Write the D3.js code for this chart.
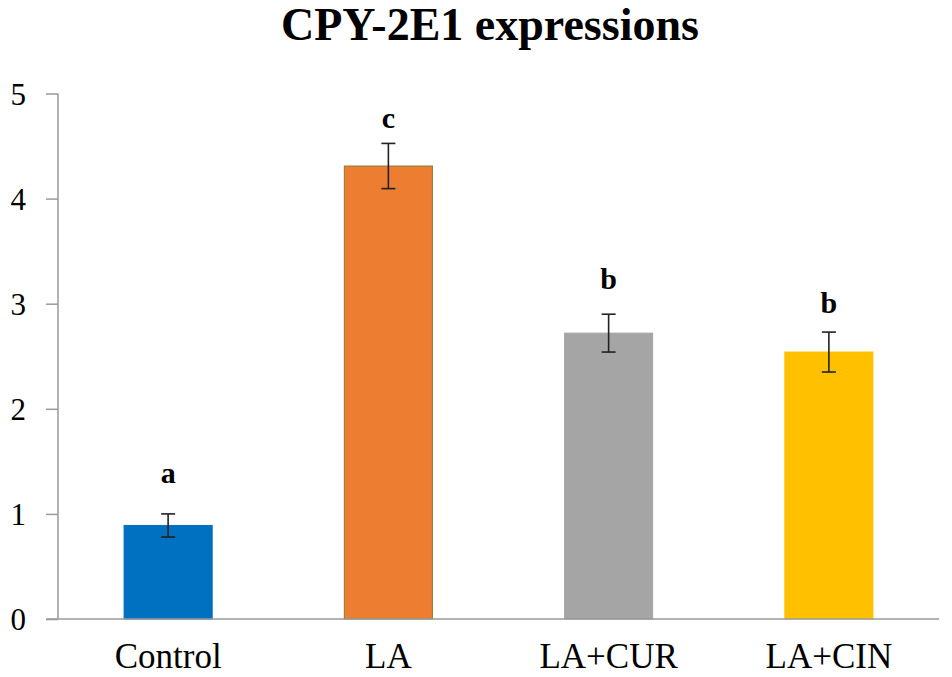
<!DOCTYPE html>
<html>
<head>
<meta charset="utf-8">
<script src="https://cdn.jsdelivr.net/npm/d3@7/dist/d3.min.js"></script>
<style>
  html, body { margin: 0; padding: 0; background: #fff; }
  svg { display: block; }
  svg text { font-family: "Liberation Serif", "Times New Roman", "DejaVu Serif", serif; }
</style>
</head>
<body>
<svg id="chart" width="952" height="677"></svg>
<script>
const categories = ["Control", "LA", "LA+CUR", "LA+CIN"];
const values = [0.89, 4.31, 2.72, 2.54];
const errors = [0.11, 0.215, 0.18, 0.19];
const letters = ["a", "c", "b", "b"];
const letterAt = [1.29, 4.67, 3.14, 2.91];
const barColors = ["#0070C0", "#ED7D31", "#A5A5A5", "#FFC000"];
const barStrokes = ["#0070C0", "#8C7B2E", "#A5A5A5", "#FFC000"];
const yTicks = [0, 1, 2, 3, 4, 5];
const title = "CPY-2E1 expressions";

const svg = d3.select("#chart");

const x = d3.scaleBand().domain(categories).range([58, 939]).paddingInner(0.6).paddingOuter(0.3);
const y = d3.scaleLinear().domain([0, 5]).range([619, 93.5]);

// title
svg.append("text")
  .attr("x", 490).attr("y", 40)
  .attr("text-anchor", "middle")
  .attr("font-weight", "bold").attr("font-size", 46)
  .attr("fill", "#000")
  .text(title);

// bars
svg.append("g").selectAll("rect").data(values).join("rect")
  .attr("x", (d, i) => x(categories[i]))
  .attr("width", x.bandwidth())
  .attr("y", d => y(d))
  .attr("height", d => y(0) - y(d))
  .attr("fill", (d, i) => barColors[i])
  .attr("stroke", (d, i) => barStrokes[i])
  .attr("stroke-width", 1);

// y axis
const yAxis = d3.axisLeft(y).tickValues(yTicks).tickSize(12).tickPadding(20).tickFormat(d3.format("d"));
const gy = svg.append("g").attr("transform", "translate(58,0)").call(yAxis);
gy.attr("font-family", null);
gy.select(".domain").attr("stroke", "#9a9a9a").attr("stroke-width", 1.5).attr("d", `M0,${y(5)}V${y(0)}`);
gy.selectAll(".tick line").attr("stroke", "#9a9a9a").attr("stroke-width", 1.5);
gy.selectAll(".tick text").attr("font-size", 31).attr("fill", "#000").attr("dy", "0.34em");

// x axis
const xAxis = d3.axisBottom(x).tickSize(0).tickPadding(24);
const gx = svg.append("g").attr("transform", `translate(0,${y(0)})`).call(xAxis);
gx.attr("font-family", null);
gx.select(".domain").attr("stroke", "#9a9a9a").attr("stroke-width", 1.5).attr("d", `M46,0H939`);
gx.selectAll(".tick text").attr("font-size", 35).attr("fill", "#000").attr("dy", "0.71em");

// error bars
const eb = svg.append("g").attr("stroke", "#222").attr("stroke-width", 1.6);
values.forEach((v, i) => {
  const cx = x(categories[i]) + x.bandwidth() / 2;
  eb.append("line").attr("x1", cx).attr("x2", cx).attr("y1", y(v + errors[i])).attr("y2", y(v - errors[i]));
  eb.append("line").attr("x1", cx - 7).attr("x2", cx + 7).attr("y1", y(v + errors[i])).attr("y2", y(v + errors[i]));
  eb.append("line").attr("x1", cx - 7).attr("x2", cx + 7).attr("y1", y(v - errors[i])).attr("y2", y(v - errors[i]));
});

// letters
svg.append("g").selectAll("text").data(letters).join("text")
  .attr("x", (d, i) => x(categories[i]) + x.bandwidth() / 2)
  .attr("y", (d, i) => y(letterAt[i]))
  .attr("text-anchor", "middle")
  .attr("font-weight", "bold").attr("font-size", 30)
  .attr("fill", "#000")
  .text(d => d);
</script>
</body>
</html>
